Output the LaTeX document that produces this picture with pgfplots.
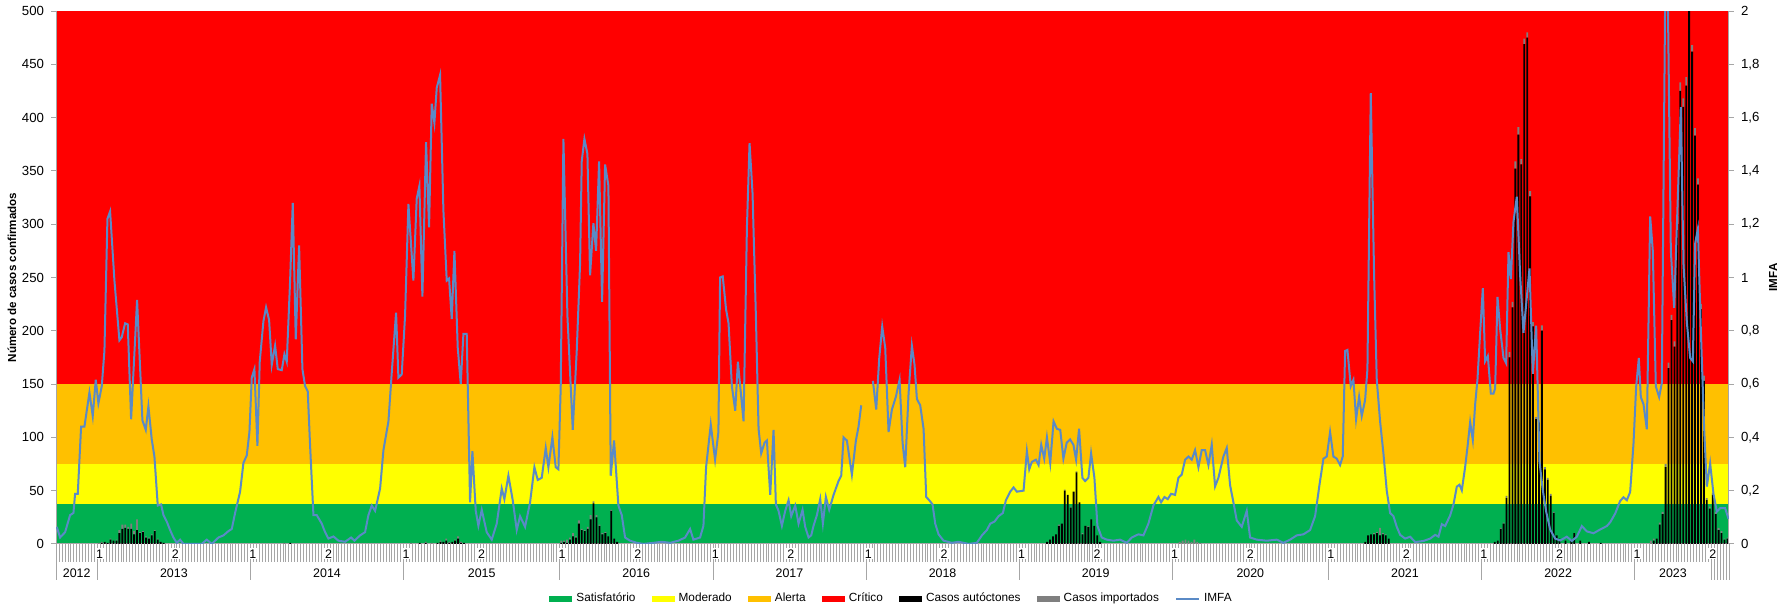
\documentclass[border=0pt]{standalone}
\usepackage{fontspec}
\setmainfont{Liberation Sans}
\usepackage{pgfplots}
\usepackage{pgfplotstable}
\pgfplotsset{compat=1.18}

\definecolor{satis}{HTML}{00B050}
\definecolor{moder}{HTML}{FFFF00}
\definecolor{alerta}{HTML}{FFC000}
\definecolor{critico}{HTML}{FF0000}
\definecolor{importados}{HTML}{7F7F7F}
\definecolor{imfa}{HTML}{5A8AC6}
\definecolor{eixo}{HTML}{A6A6A6}

\newcommand\ft[1]{\fontsize{#1}{#1}\selectfont}

% weekly cases: x = week index (0 = 2012 wk 39), autochthonous / imported
\pgfplotstableread{
x auto imp
14.5 0 1
15.5 1 1
16.5 2 0
17.5 1 0
18.5 4 1
19.5 3 0
20.5 3 1
21.5 10 3
22.5 14 4
23.5 15 3
24.5 14 2
25.5 14 5
26.5 9 3
27.5 13 10
28.5 10 1
29.5 11 1
30.5 6 1
31.5 5 1
32.5 8 1
33.5 12 1
34.5 4 1
35.5 2 0
36.5 1 0
77.5 0 1
79.5 1 0
120.5 0 1
123.5 1 0
125.5 1 1
127.5 0 1
129.5 1 0
130.5 2 1
131.5 2 0
132.5 3 2
133.5 1 1
134.5 2 0
135.5 3 1
136.5 5 2
137.5 1 1
138.5 1 0
171.5 1 2
172.5 2 1
173.5 1 3
174.5 4 2
175.5 7 3
176.5 6 1
177.5 19 3
178.5 13 1
179.5 12 1
180.5 14 2
181.5 23 4
182.5 38 2
183.5 25 2
184.5 17 1
185.5 9 1
186.5 10 1
187.5 7 0
188.5 31 1
189.5 5 0
190.5 2 0
336.5 2 0
337.5 4 0
338.5 7 0
339.5 9 0
340.5 17 1
341.5 19 0
342.5 50 1
343.5 46 0
344.5 34 1
345.5 49 0
346.5 67 1
347.5 39 0
348.5 9 1
349.5 17 0
350.5 16 1
351.5 23 0
352.5 17 0
353.5 8 0
354.5 2 0
381.5 0 2
382.5 0 3
383.5 0 4
384.5 0 3
385.5 0 2
386.5 0 4
387.5 0 2
388.5 0 1
444.5 2 0
445.5 8 0
446.5 9 0
447.5 9 1
448.5 10 1
449.5 8 7
450.5 9 1
451.5 8 1
452.5 5 0
488.5 2 0
489.5 3 0
490.5 14 1
491.5 19 1
492.5 43 2
493.5 175 5
494.5 222 5
495.5 352 7
496.5 384 7
497.5 356 5
498.5 469 5
499.5 475 5
500.5 326 5
501.5 204 4
502.5 117 2
503.5 114 2
504.5 200 5
505.5 70 2
506.5 60 2
507.5 45 2
508.5 29 1
509.5 8 0
510.5 5 0
512.5 3 0
514.5 4 0
515.5 10 0
517.5 3 0
520.5 2 0
524.5 1 0
541.5 0 3
542.5 3 2
543.5 5 0
544.5 18 2
545.5 28 2
546.5 72 3
547.5 165 5
548.5 210 5
549.5 185 5
550.5 300 8
551.5 425 8
552.5 410 8
553.5 430 8
554.5 505 5
555.5 462 6
556.5 383 7
557.5 337 6
558.5 220 5
559.5 153 5
560.5 41 2
561.5 33 2
562.5 46 2
563.5 28 2
564.5 13 2
565.5 10 2
566.5 4 1
567.5 5 1
}\casos

% IMFA
\pgfplotstableread{
x v
0.23 0.064
1.36 0.024
3.06 0.044
4.75 0.108
5.89 0.116
6.45 0.188
7.36 0.188
8.49 0.44
9.62 0.44
11.32 0.568
12.45 0.48
13.47 0.616
14.37 0.528
15.51 0.592
16.41 0.724
17.43 1.22
18.34 1.248
19.81 0.988
21.50 0.764
22.30 0.776
23.43 0.828
24.33 0.824
25.47 0.468
27.50 0.916
29.31 0.464
30.45 0.428
31.35 0.516
32.48 0.392
33.39 0.328
34.52 0.144
35.65 0.148
36.45 0.108
37.58 0.084
38.71 0.052
39.84 0.024
40.97 0.004
42.10 0.016
43.24 0
44.93 0
49.46 0
51.16 0.016
52.86 0
55.12 0.024
56.82 0.032
58.52 0.048
59.65 0.056
60.78 0.116
62.48 0.196
63.61 0.304
64.74 0.332
65.65 0.42
66.44 0.624
67.34 0.656
68.36 0.368
69.15 0.684
70.40 0.836
71.30 0.888
72.33 0.84
73.23 0.672
74.36 0.744
75.27 0.656
76.63 0.652
77.53 0.712
78.32 0.684
79.46 0.988
80.36 1.28
81.38 0.768
82.51 1.12
83.64 0.656
84.55 0.592
85.45 0.572
86.25 0.368
87.38 0.108
88.51 0.108
90.21 0.076
91.34 0.044
92.47 0.02
94.17 0.028
95.87 0.012
98.13 0.008
100.17 0.024
101.30 0.012
103.22 0.032
104.92 0.044
106.05 0.108
107.19 0.144
108.32 0.124
110.02 0.208
111.15 0.352
112.85 0.46
113.98 0.644
115.44 0.868
116.23 0.624
117.36 0.636
118.49 0.856
119.63 1.276
121.32 0.988
122.45 1.296
123.36 1.344
124.38 0.928
125.62 1.508
126.64 1.188
127.55 1.652
128.45 1.58
129.25 1.712
130.38 1.76
131.51 1.252
132.64 0.988
133.43 0.996
134.34 0.844
135.25 1.1
136.38 0.736
137.40 0.6
138.30 0.788
139.43 0.788
140.56 0.156
141.36 0.348
142.49 0.124
143.39 0.068
144.53 0.128
146.22 0.044
147.92 0.016
149.62 0.076
151.32 0.208
152.22 0.168
153.58 0.256
155.05 0.164
156.41 0.052
157.54 0.104
159.24 0.064
160.94 0.156
162.41 0.288
163.54 0.24
164.90 0.248
166.26 0.36
167.16 0.288
168.52 0.4
169.65 0.288
170.56 0.28
171.35 0.592
172.26 1.52
173.62 0.856
175.43 0.428
176.78 0.724
177.92 1.052
178.48 1.436
179.39 1.52
180.41 1.464
181.31 1.008
182.44 1.204
183.35 1.1
184.37 1.436
185.39 0.908
186.41 1.424
187.54 1.344
188.33 0.256
189.46 0.388
190.93 0.144
192.07 0.108
193.20 0.024
194.90 0.012
197.16 0.004
199.42 0
202.82 0.004
205.65 0.008
208.48 0.004
211.31 0.012
213.57 0.024
215.27 0.056
216.40 0.016
218.66 0.024
219.80 0.068
220.70 0.288
222.29 0.448
223.76 0.316
224.89 0.42
225.46 1.0
226.36 1.004
227.49 0.88
228.33 0.828
229.46 0.592
230.60 0.5
231.50 0.684
233.43 0.46
234.56 1.184
235.46 1.504
236.48 1.316
237.61 0.856
238.52 0.432
239.42 0.34
240.56 0.38
241.35 0.388
242.48 0.184
243.61 0.428
244.40 0.148
245.31 0.124
246.44 0.068
247.57 0.124
248.71 0.164
249.61 0.104
250.97 0.144
252.10 0.076
253.46 0.128
254.36 0.064
255.50 0.024
256.40 0.032
257.19 0.068
258.33 0.108
259.46 0.168
260.36 0.076
261.38 0.176
262.51 0.128
263.99 0.184
265.68 0.236
266.59 0.256
267.38 0.4
268.51 0.388
270.21 0.26
271.57 0.388
272.47 0.44
273.38 0.52
275.50 nan
277.34 0.612
278.47 0.504
279.49 0.696
280.51 0.816
281.53 0.736
282.66 0.42
283.79 0.504
285.15 0.552
286.40 0.616
287.42 0.38
288.32 0.288
289.45 0.564
290.58 0.744
291.49 0.672
292.28 0.544
293.41 0.52
294.55 0.432
295.45 0.176
296.47 0.164
297.60 0.148
298.51 0.076
299.64 0.036
301.34 0.012
304.17 0.004
306.43 0.008
309.83 0
312.65 0.004
314.35 0.032
316.05 0.052
317.18 0.076
318.65 0.084
320.01 0.104
321.48 0.116
322.50 0.164
323.97 0.196
325.11 0.212
326.24 0.196
328.50 0.2
329.63 0.348
330.43 0.28
331.33 0.308
332.69 0.316
333.60 0.296
334.50 0.372
335.52 0.32
336.43 0.4
337.56 0.304
338.69 0.46
339.82 0.432
340.95 0.428
342.03 0.32
343.16 0.38
344.30 0.392
345.43 0.372
346.33 0.316
347.35 0.432
348.48 0.248
349.39 0.236
350.52 0.248
351.43 0.34
352.56 0.248
353.58 0.068
355.05 0.024
356.75 0.016
359.01 0.012
361.27 0.016
363.54 0.004
365.24 0.024
367.50 0.036
369.20 0.032
370.89 0.076
372.59 0.144
374.29 0.176
375.20 0.156
376.33 0.176
377.46 0.168
378.59 0.188
379.95 0.184
381.08 0.248
382.21 0.26
383.35 0.316
384.48 0.328
385.61 0.316
386.74 0.352
387.87 0.288
389.00 0.352
390.14 0.352
391.27 0.296
392.40 0.372
393.53 0.216
394.66 0.248
396.36 0.328
397.49 0.36
398.63 0.22
399.76 0.156
400.89 0.088
402.59 0.064
404.28 0.124
405.42 0.024
407.68 0.016
411.08 0.012
414.47 0.016
416.73 0.004
419.00 0.016
421.26 0.032
423.53 0.036
425.79 0.052
427.49 0.104
428.96 0.22
430.32 0.32
431.45 0.328
432.58 0.42
433.71 0.328
434.84 0.32
435.98 0.296
436.88 0.328
437.68 0.724
438.47 0.728
439.60 0.592
440.50 0.616
441.41 0.468
442.43 0.552
443.33 0.48
444.47 0.54
445.26 0.656
446.39 1.692
447.52 1.012
448.43 0.616
449.56 0.46
450.69 0.34
451.82 0.2
452.96 0.116
454.09 0.104
455.22 0.064
456.37 0.034
458.07 0.02
459.77 0.027
461.46 0.007
464.29 0.011
466.56 0.02
468.25 0.034
469.39 0.027
470.52 0.074
471.65 0.067
473.35 0.107
474.48 0.148
475.61 0.215
476.52 0.222
477.31 0.201
478.44 0.289
479.23 0.363
480.14 0.457
481.04 0.39
481.84 0.524
482.63 0.618
483.53 0.792
484.44 0.96
485.23 0.685
486.14 0.705
487.16 0.564
488.06 0.564
488.63 0.584
489.42 0.927
490.33 0.806
491.46 0.698
492.36 0.678
493.16 1.095
493.95 0.994
494.85 1.209
495.98 1.303
497.12 1.007
498.25 0.792
500.29 1.034
501.42 0.638
502.55 0.819
503.68 0.309
504.81 0.201
505.95 0.121
507.30 0.054
509.00 0.02
510.70 0.013
512.96 0.027
514.66 0.011
516.36 0.027
518.06 0.067
519.75 0.047
522.02 0.04
524.28 0.054
526.55 0.067
527.68 0.081
529.38 0.114
531.07 0.161
532.20 0.175
533.34 0.164
534.47 0.195
535.60 0.376
536.51 0.591
537.41 0.698
538.09 0.551
539.00 0.524
540.13 0.43
541.26 1.229
542.16 1.1
543.18 0.591
544.31 0.551
545.22 0.604
546.35 2.05
547.26 2.05
548.28 1.101
549.41 0.886
550.54 1.263
551.67 1.639
552.58 1.048
553.71 0.833
554.84 0.698
555.75 0.685
556.54 1.128
557.45 1.182
558.46 0.806
559.60 0.43
560.50 0.215
561.63 0.302
562.76 0.188
563.90 0.121
565.03 0.134
566.73 0.134
567.86 0.094
}\imfadata

\pgfplotsset{
  /pgf/number format/assume math mode=true,
  base/.style={scale only axis, width=835pt, height=266pt, xmin=0, xmax=568},
  leg box/.style={legend image code/.code={\fill[##1, draw=none] (0pt,-1.3pt) rectangle (11.5pt,1.3pt);}},
  leg line/.style={legend image code/.code={\draw[##1] (0pt,0pt) -- (11.5pt,0pt);}},
}

\begin{document}
\begin{tikzpicture}
% alert levels + weekly ticks + year separators
\begin{axis}[base, name=ax, ymin=0, ymax=500,
  axis line style={eixo, line width=0.5pt},
  ytick=\empty,
  xtick={0,14,66,118,171,223,275,327,379,432,484,536,562,563,564,565,566,567,568},
  xticklabels={},
  minor xtick={1,2,...,567},
  tick align=outside, tick pos=left,
  major tick length=18pt, minor tick length=9pt,
  tick style={eixo, line width=0.35pt},
]
\addplot[fill=critico, draw=none] coordinates {(0,500) (568,500)} \closedcycle;
\addplot[fill=alerta, draw=none] coordinates {(0,150) (568,150)} \closedcycle;
\addplot[fill=moder, draw=none] coordinates {(0,75) (568,75)} \closedcycle;
\addplot[fill=satis, draw=none] coordinates {(0,37.5) (568,37.5)} \closedcycle;
\end{axis}

% cases, left axis, semester labels
\begin{axis}[base, ymin=0, ymax=500,
  ybar stacked, bar width=0.62,
  axis x line*=bottom, axis y line*=left,
  axis line style={eixo, line width=0.5pt},
  ytick={0,50,...,500},
  tick align=outside, major tick length=2.5pt,
  tick style={eixo, line width=0.5pt},
  every major x tick/.append style={draw=none},
  xtick={14.8,40.5,66.8,92.5,118.8,144.5,171.8,197.5,223.8,249.5,275.8,301.5,327.8,353.5,379.8,405.5,432.8,458.5,484.8,510.5,536.8,562.5},
  xticklabels={1,2,1,2,1,2,1,2,1,2,1,2,1,2,1,2,1,2,1,2,1,2},
  xticklabel style={fill=white, inner sep=0.6pt, anchor=center, yshift=-2.5pt, font=\ft{6.2}},
  yticklabel style={font=\ft{6.6}},
  ylabel={Número de casos confirmados},
  ylabel shift=-4pt,
  ylabel style={font=\bfseries\ft{5.8}},
]
\addplot[fill=black, draw=none] table[x=x, y=auto] {\casos};
\addplot[fill=importados, draw=none] table[x=x, y=imp] {\casos};
\end{axis}

% IMFA, right axis, year labels, legend
\begin{axis}[base, ymin=0, ymax=2,
  axis y line*=right, axis x line*=bottom,
  axis line style={eixo, line width=0.5pt},
  x axis line style={draw=none},
  ytick={0,0.2,...,2},
  tick align=outside, major tick length=2.5pt,
  tick style={eixo, line width=0.5pt},
  every major x tick/.append style={draw=none},
  yticklabel style={font=\ft{6.6}, /pgf/number format/.cd, use comma, fixed, precision=1},
  xtick={7,40,92,144.5,197,249,301,353,405.5,458,510,549},
  xticklabels={2012,2013,2014,2015,2016,2017,2018,2019,2020,2021,2022,2023},
  xticklabel style={anchor=center, yshift=-12pt, font=\ft{6.2}},
  ylabel={IMFA},
  ylabel shift=-2pt,
  ylabel style={font=\bfseries\ft{5.8}},
  unbounded coords=jump,
  legend columns=-1,
  legend style={at={(0.5,-0.1034)}, anchor=center, draw=none, fill=none,
    font=\ft{5.9}, /tikz/every even column/.append style={column sep=6pt}},
]
\addlegendimage{leg box, fill=satis}
\addlegendimage{leg box, fill=moder}
\addlegendimage{leg box, fill=alerta}
\addlegendimage{leg box, fill=critico}
\addlegendimage{leg box, fill=black}
\addlegendimage{leg box, fill=importados}
\addplot[imfa, line width=1pt, leg line] table[x=x, y=v] {\imfadata};
\legend{Satisfatório, Moderado, Alerta, Crítico, Casos autóctones, Casos importados, IMFA}
\end{axis}

\pgfresetboundingbox
\path[use as bounding box] ([xshift=-28pt, yshift=-30.5pt]ax.south west) rectangle ([xshift=28pt, yshift=5.5pt]ax.north east);
\end{tikzpicture}
\end{document}
